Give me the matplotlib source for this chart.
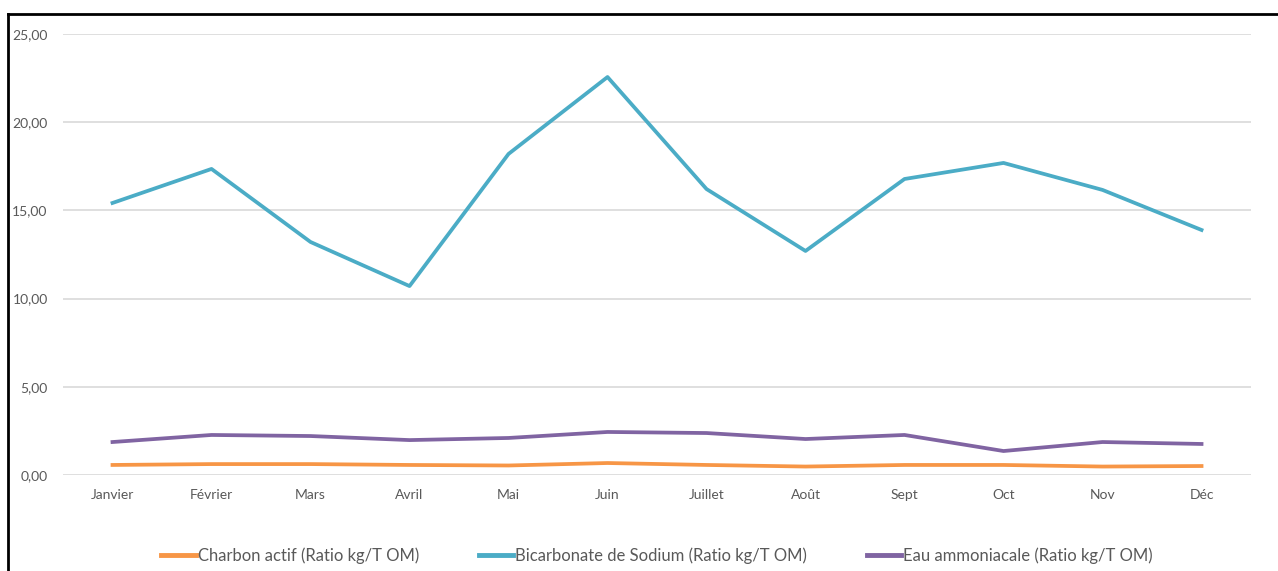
import matplotlib.pyplot as plt
from matplotlib.lines import Line2D

months = ['Janvier', 'Février', 'Mars', 'Avril', 'Mai', 'Juin', 'Juillet',
          'Août', 'Sept', 'Oct', 'Nov', 'Déc']
charbon = [0.57, 0.62, 0.62, 0.57, 0.54, 0.68, 0.57, 0.48, 0.57, 0.57, 0.48, 0.51]
bicarbonate = [15.42, 17.35, 13.21, 10.71, 18.20, 22.56, 16.21, 12.70, 16.78, 17.69, 16.16, 13.89]
eau = [1.87, 2.27, 2.21, 1.98, 2.10, 2.44, 2.38, 2.04, 2.27, 1.36, 1.87, 1.76]

plt.rcParams['font.family'] = ['Lato', 'DejaVu Sans']
grey = '#595959'

fig = plt.figure(figsize=(12.78, 5.71), dpi=100)
ax = fig.add_axes([0.0493, 0.1681, 0.9296, 0.7724])

x = range(len(months))
ax.plot(x, charbon, color='#F79646', lw=2.7, label='Charbon actif (Ratio kg/T OM)')
ax.plot(x, bicarbonate, color='#4BACC6', lw=2.7, label='Bicarbonate de Sodium (Ratio kg/T OM)')
ax.plot(x, eau, color='#8064A2', lw=2.7, label='Eau ammoniacale (Ratio kg/T OM)')

ax.set_xlim(-0.5, len(months) - 0.5)
ax.set_ylim(0, 25)
yt = [0, 5, 10, 15, 20, 25]
ax.set_yticks(yt)
ax.set_yticklabels([('%.2f' % v).replace('.', ',') for v in yt])
ax.set_xticks(list(x))
ax.set_xticklabels(months)
ax.tick_params(length=0, colors=grey, labelsize=10)
ax.tick_params(axis='y', pad=11)
ax.tick_params(axis='x', pad=10)
ax.grid(axis='y', color='#DCDCDC', lw=1.3)
ax.set_axisbelow(True)
for s in ax.spines.values():
    s.set_visible(False)

leg = ax.legend(loc='center', bbox_to_anchor=(0.5, -0.182), ncol=3, frameon=False,
                fontsize=12, handlelength=2.05, handletextpad=0.12, columnspacing=3.6)
for t in leg.get_texts():
    t.set_color(grey)
for h in leg.get_lines():
    h.set_linewidth(3.5)

# black frame (top and left visible)
fig.add_artist(Line2D([8 / 1278, 1], [1 - 14 / 571, 1 - 14 / 571], color='black', lw=2))
fig.add_artist(Line2D([8 / 1278, 8 / 1278], [0, 1 - 14 / 571], color='black', lw=2))

fig.savefig('out.png', dpi=100)
